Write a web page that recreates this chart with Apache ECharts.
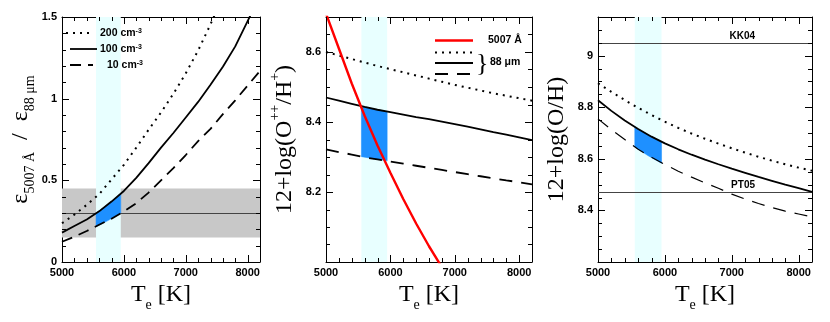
<!DOCTYPE html>
<html><head><meta charset="utf-8">
<script src="https://cdn.jsdelivr.net/npm/echarts@6/dist/echarts.min.js"></script>
<style>html,body{margin:0;padding:0;background:#fff}#c{width:830px;height:322px}</style>
</head><body><div id="c"></div>
<script>
// ---------- data ----------
const temps = [5000,5200,5400,5600,5800,6000,6200,6400,6600,6800,7000,7200,7400,7600,7800,8000,8200];
// panel 1: emissivity ratio
const ratio200 = [0.237,0.29,0.35,0.415,0.505,0.595,0.70,0.81,0.915,1.03,1.155,1.295,1.455,1.63,null,null,null];
const ratio100 = [0.18,0.22,0.26,0.31,0.37,0.435,0.515,0.605,0.70,0.79,0.885,0.98,1.085,1.195,1.32,1.475,1.63];
const ratio10  = [0.124,0.155,0.19,0.228,0.265,0.31,0.36,0.425,0.50,0.575,0.655,0.74,0.815,0.905,0.99,1.08,1.17];
const ratioObs = 0.3;
const ratioBand = [0.15, 0.45];
// panel 2: 12+log(O++/H+)
const o3Red = [8.71,8.61,8.51,8.418,8.333,8.255,8.18,8.11,8.045,7.985,7.93,null,null,null,null,null,null];
const o3n200 = [8.600,8.590,8.580,8.570,8.560,8.551,8.542,8.533,8.524,8.515,8.506,8.498,8.490,8.482,8.475,8.468,8.461];
const o3n100 = [8.470,8.461,8.452,8.443,8.435,8.428,8.421,8.414,8.408,8.401,8.394,8.387,8.379,8.371,8.364,8.356,8.348];
const o3n10  = [8.322,8.314,8.307,8.299,8.293,8.287,8.281,8.275,8.269,8.263,8.257,8.251,8.245,8.239,8.233,8.228,8.222];
// panel 3: 12+log(O/H)
const ohn200 = [8.893,8.860,8.828,8.798,8.770,8.744,8.720,8.698,8.678,8.659,8.641,8.624,8.608,8.593,8.579,8.566,8.554];
const ohn100 = [8.827,8.786,8.749,8.716,8.686,8.660,8.637,8.616,8.597,8.579,8.562,8.546,8.530,8.515,8.500,8.486,8.472];
const ohn10  = [8.755,8.713,8.675,8.637,8.606,8.578,8.552,8.529,8.507,8.486,8.463,8.444,8.427,8.411,8.397,8.386,8.375];
const kk04 = 9.05, pt05 = 8.47;
// Te range allowed (cyan band) and blue fills
const teBand = [5550, 5950];
const fillT = [5550, 5750, 5950];
const fill1Top = [0.30, 0.355, 0.42],   fill1Bot = [0.216, 0.255, 0.30];
const fill2Top = [8.445, 8.437, 8.429], fill2Bot = [8.301, 8.295, 8.289];
const fill3Top = [8.724, 8.693, 8.666], fill3Bot = [8.646, 8.612, 8.583];
// axes, ticks and tick labels
const xRange = [5000, 8200];
const xLabels = [5000, 6000, 7000, 8000];
const xMinor = [5200,5400,5600,5800,6200,6400,6600,6800,7200,7400,7600,7800];
const y1Range = [0, 1.5];
const y1Labels = [0, 0.5, 1, 1.5];
const y1Minor = [0.1,0.2,0.3,0.4,0.6,0.7,0.8,0.9,1.1,1.2,1.3,1.4];
const y2Range = [8.0, 8.7];
const y2Labels = [8.2, 8.4, 8.6];
const y2Minor = [8.05,8.1,8.15,8.25,8.3,8.35,8.45,8.5,8.55,8.65];
const y3Range = [8.2, 9.15];
const y3Labels = [8.4, 8.6, 8.8, 9.0];
const y3Minor = [8.25,8.3,8.35,8.45,8.5,8.55,8.65,8.7,8.75,8.85,8.9,8.95,9.05,9.1];

// ---------- layout ----------
const grids = [
  {left: 62, top: 17, width: 198, height: 245},
  {left: 326, top: 17, width: 206, height: 245},
  {left: 598, top: 17, width: 214, height: 245}
];
const SERIF = 'Liberation Serif';
const SANS = 'Liberation Sans';

function nameRich() {
  return {
    m:{fontSize:24, fontFamily:SERIF, color:'#000', lineHeight:34, verticalAlign:'middle'},
    e:{fontSize:24, fontFamily:SERIF, color:'#000', lineHeight:34, verticalAlign:'middle'},
    s:{fontSize:14, fontFamily:SERIF, color:'#000', lineHeight:14, verticalAlign:'bottom'},
    p:{fontSize:14, fontFamily:SERIF, color:'#000', lineHeight:14, verticalAlign:'top'}
  };
}
const xName = '{m|T}{s|e}{m| [K]}';

const xAxes = [], yAxes = [];
function mkAxis(g, pos, range, labels, extra) {
  const ax = {
    type:'value', gridIndex:g, position:pos, min:range[0], max:range[1],
    splitLine:{show:false},
    axisLine:{show:true, onZero:false, lineStyle:{color:'#000', width:1}},
    axisTick:{show:false},
    axisLabel: labels ? {show:true, customValues:labels.slice(), margin:5, color:'#000',
      fontWeight:'bold', fontSize:11, fontFamily:SANS, formatter: function (v) { return String(v); }}
      : {show:false}
  };
  return Object.assign(ax, extra || {});
}
function addAxes(g, yr, yl, yName, yGap) {
  xAxes.push(mkAxis(g, 'bottom', xRange, xLabels,
    {name:xName, nameLocation:'middle', nameGap:13, nameTextStyle:{rich:nameRich()}}));
  xAxes.push(mkAxis(g, 'top', xRange, null));
  yAxes.push(mkAxis(g, 'left', yr, yl,
    {name:yName, nameLocation:'middle', nameRotate:90, nameGap:yGap, nameTextStyle:{rich:nameRich()}}));
  yAxes.push(mkAxis(g, 'right', yr, null));
}
addAxes(0, y1Range, y1Labels, '{e|ε}{s|5007 Å}{e|  /  ε}{s|88 μm}', 20);
addAxes(1, y2Range, y2Labels, '{m|12+log(O}{p|++}{m|/H}{p|+}{m|)}', 24);
addAxes(2, y3Range, y3Labels, '{m|12+log(O/H)}', 24);

const DOT = [2, 5], DASH = [11, 7], DASH2 = [13, 9];
function curve(g, vals, color, width, type) {
  return {type:'line', xAxisIndex:2*g, yAxisIndex:2*g, z:4, silent:true,
    data: temps.map((t, i) => [t, vals[i]]), showSymbol:false, symbol:'none',
    connectNulls:false, clip:true, smooth:false,
    lineStyle:{color:color, width:width, type:type, cap:'butt'}};
}
function fill(g, top, bot, bandMarks) {
  return {type:'custom', xAxisIndex:2*g, yAxisIndex:2*g, z:3, silent:true, clip:true,
    data: fillT.map((t, i) => [t, top[i], bot[i]]), encode:{x:0, y:1},
    renderItem: function (params, api) {
      if (params.dataIndex !== 0) return;
      const pts = [];
      for (let i = 0; i < fillT.length; i++) pts.push(api.coord([fillT[i], top[i]]));
      for (let i = fillT.length - 1; i >= 0; i--) pts.push(api.coord([fillT[i], bot[i]]));
      return {type:'polygon', shape:{points:pts}, style:{fill:'#1e90ff', stroke:'#1e90ff', lineWidth:0.5}};
    },
    markArea: {silent:true, z:1, data: bandMarks}
  };
}
function cyan() { return [{xAxis:teBand[0], itemStyle:{color:'#e8ffff'}}, {xAxis:teBand[1]}]; }
const gray = [{yAxis:ratioBand[0], itemStyle:{color:'#c8c8c8'}}, {yAxis:ratioBand[1]}];

function hline(g, val, labelText) {
  return {type:'line', xAxisIndex:2*g, yAxisIndex:2*g, data:[], silent:true,
    markLine:{silent:true, z:3, symbol:['none','none'],
      lineStyle:{color:'#444', width:1, type:'solid'},
      label: labelText ? {show:true, position:'insideEndTop', formatter:labelText,
        color:'#000', fontWeight:'bold', fontSize:10, fontFamily:SANS, padding:[0,55,0,0], distance:2}
        : {show:false},
      data:[{yAxis:val}]}};
}

const series = [
  fill(0, fill1Top, fill1Bot, [gray, cyan()]),
  hline(0, ratioObs),
  curve(0, ratio200, '#000', 2, DOT),
  curve(0, ratio100, '#000', 1.8, 'solid'),
  curve(0, ratio10, '#000', 1.8, DASH),

  fill(1, fill2Top, fill2Bot, [cyan()]),
  curve(1, o3n200, '#000', 2, DOT),
  curve(1, o3n100, '#000', 1.8, 'solid'),
  curve(1, o3n10, '#000', 1.8, DASH2),
  Object.assign(curve(1, o3Red, '#ff0000', 2.4, 'solid'), {z:5}),

  fill(2, fill3Top, fill3Bot, [cyan()]),
  hline(2, kk04, 'KK04'),
  hline(2, pt05, 'PT05'),
  curve(2, ohn200, '#000', 2, DOT),
  curve(2, ohn100, '#000', 1.8, 'solid'),
  curve(2, ohn10, '#000', 1.2, DASH2)
];

function ltxt(x, y, text) {
  return {type:'text', x:x, y:y, z:10, silent:true,
    style:{text:text, fill:'#000', fontSize:10.5, fontWeight:'bold', fontFamily:SANS,
      verticalAlign:'middle', align:'left',
      rich:{sup:{fontSize:7, fontWeight:'bold', fontFamily:SANS, color:'#000', verticalAlign:'top', lineHeight:8}}}};
}
function lline(x1, x2, y, dash, color, w) {
  return {type:'line', z:10, silent:true, shape:{x1:x1, y1:y, x2:x2, y2:y},
    style:{stroke:color || '#000', lineWidth:w || 1.8, lineDash:dash || null}};
}
const legendGraphic = [
  lline(66, 94, 33, DOT, '#000', 2),
  lline(70, 97, 49),
  lline(70, 93, 65, DASH),
  ltxt(100, 33, '200 cm{sup|-3}'),
  ltxt(100, 49, '100 cm{sup|-3}'),
  ltxt(107, 65, '10 cm{sup|-3}'),
  lline(435, 473, 40.5, null, '#ff0000', 2.4),
  ltxt(488, 40, '5007 Å'),
  lline(435, 473, 52.5, DOT, '#000', 2),
  lline(435, 473, 63),
  lline(435, 470, 74, DASH2),
  {type:'text', x:476, y:64, z:10, silent:true,
    style:{text:'}', fill:'#000', fontSize:26, fontFamily:SERIF, verticalAlign:'middle', align:'left'}},
  ltxt(490, 62, '88 μm')
];

const chart = echarts.init(document.getElementById('c'));
chart.setOption({
  animation:false,
  grid: grids.map(g => Object.assign({containLabel:false}, g)),
  xAxis: xAxes,
  yAxis: yAxes,
  series: series
});

// inward tick marks on all four sides of every panel, positioned through the axes' scales
const tickGraphic = [];
function seg(x1, y1, x2, y2) {
  tickGraphic.push({type:'line', z:50, silent:true, shape:{x1:x1, y1:y1, x2:x2, y2:y2},
    style:{stroke:'#000', lineWidth:1}});
}
function addTicks(g, yr, yMaj, yMin) {
  const finder = {xAxisIndex:2*g, yAxisIndex:2*g};
  const px = p => chart.convertToPixel(finder, p);
  const xt = (v, len) => {
    const b = px([v, yr[0]]), t = px([v, yr[1]]);
    const x = Math.round(b[0]) + 0.5;
    seg(x, b[1], x, b[1] - len); seg(x, t[1], x, t[1] + len);
  };
  const yt = (v, len) => {
    const l = px([xRange[0], v]), r = px([xRange[1], v]);
    const y = Math.round(l[1]) + 0.5;
    seg(l[0], y, l[0] + len, y); seg(r[0], y, r[0] - len, y);
  };
  xLabels.forEach(v => xt(v, 7)); xMinor.forEach(v => xt(v, 4));
  yMaj.forEach(v => yt(v, 7)); yMin.forEach(v => yt(v, 4));
}
addTicks(0, y1Range, y1Labels, y1Minor);
addTicks(1, y2Range, y2Labels, y2Minor);
addTicks(2, y3Range, y3Labels, y3Minor);

chart.setOption({graphic: legendGraphic.concat(tickGraphic)});
</script></body></html>
